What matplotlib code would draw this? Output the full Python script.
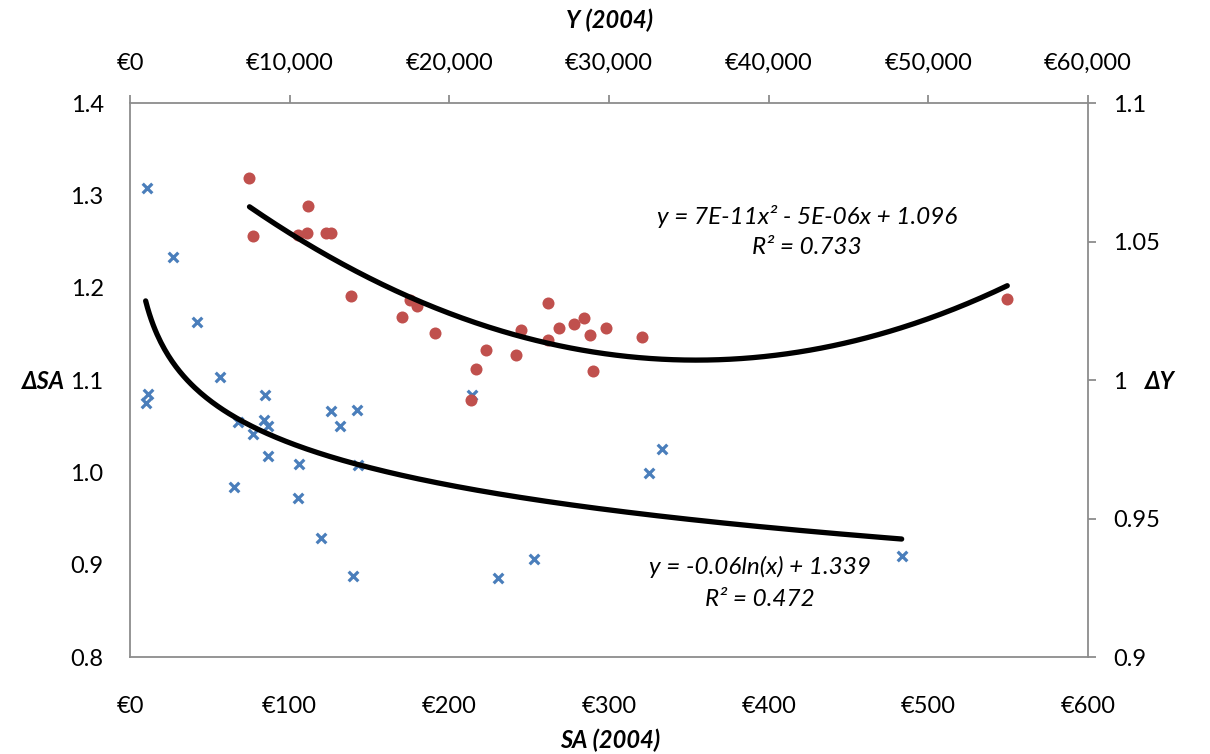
import numpy as np
import matplotlib
matplotlib.use("Agg")
import matplotlib.pyplot as plt
from matplotlib.ticker import FuncFormatter

plt.rcParams["font.family"] = ["Lato", "DejaVu Sans"]

# SA (2004) vs delta SA  (bottom / left axes)
sa = [10.6, 26.7, 42.2, 11.5, 9.8, 56.4, 84.5, 125.7, 142.4, 131.5, 67.4, 84.1, 86.6, 77.2,
      86.6, 106.0, 143.0, 65.1, 105.4, 119.6, 139.9, 214.0, 333.0, 325.2, 253.2, 230.7, 483.3]
d_sa = [1.308, 1.233, 1.163, 1.085, 1.075, 1.104, 1.084, 1.067, 1.068, 1.051, 1.055, 1.057,
        1.051, 1.042, 1.018, 1.009, 1.008, 0.984, 0.972, 0.929, 0.888, 1.084, 1.026, 1.000,
        0.906, 0.886, 0.910]

# Y (2004) vs delta Y  (top / right axes)
y04 = [7484, 11161, 7691, 10541, 11104, 12257, 12589, 13854, 17536, 17994, 17054, 19083,
       22296, 21689, 21357, 26179, 26849, 27826, 28453, 29793, 28791, 24488, 24156, 26179,
       28978, 32066, 54944]
d_y = [1.0730, 1.0629, 1.0520, 1.0523, 1.0530, 1.0533, 1.0531, 1.0304, 1.0289, 1.0270,
       1.0227, 1.0169, 1.0108, 1.0039, 0.9930, 1.0279, 1.0189, 1.0202, 1.0225, 1.0188,
       1.0165, 1.0182, 1.0090, 1.0147, 1.0032, 1.0156, 1.0292]

sa_ticks = [0, 100, 200, 300, 400, 500, 600]
y_ticks = [0, 10000, 20000, 30000, 40000, 50000, 60000]
dsa_ticks = [0.8, 0.9, 1.0, 1.1, 1.2, 1.3, 1.4]
dy_ticks = [0.9, 0.95, 1.0, 1.05, 1.1]

blue = "#4A7EBB"
red = "#C0504D"
grey = "#8C8C8C"
fs = 17
fs_eq = 17.5

fig = plt.figure(figsize=(12.1, 7.54), dpi=100)
rect = [130 / 1210, 1 - 657.3 / 754, (1088 - 130) / 1210, (657.3 - 103.3) / 754]
ax = fig.add_axes(rect)
ax2 = fig.add_axes(rect)
ax2.patch.set_alpha(0)

# blue series + log trend
ax.scatter(sa, d_sa, marker="x", s=48, color=blue, linewidths=2.3, zorder=2)
a, b = np.polyfit(np.log(sa), d_sa, 1)
xs = np.linspace(min(sa), max(sa), 400)
ax.plot(xs, a * np.log(xs) + b, color="black", lw=3.8, zorder=3, solid_capstyle="round")

ax.set_xlim(0, 600)
ax.set_ylim(0.8, 1.4)
ax.set_xticks(sa_ticks)
ax.set_yticks(dsa_ticks)
ax.xaxis.set_major_formatter(FuncFormatter(lambda v, p: f"€{v:,.0f}"))
ax.yaxis.set_major_formatter(FuncFormatter(lambda v, p: f"{v:.1f}"))
ax.tick_params(axis="x", length=0, pad=28, labelsize=fs)
ax.tick_params(axis="y", length=0, pad=19, labelsize=fs)
for s in ["top", "right"]:
    ax.spines[s].set_visible(False)
for s in ["left", "bottom"]:
    ax.spines[s].set_color(grey)
    ax.spines[s].set_linewidth(1.3)

# red series + polynomial trend
ax2.scatter(y04, d_y, marker="o", s=75, color=red, linewidths=0, zorder=2)
c = np.polyfit(y04, d_y, 2)
xq = np.linspace(min(y04), max(y04), 400)
ax2.plot(xq, np.polyval(c, xq), color="black", lw=3.8, zorder=3, solid_capstyle="round")

ax2.set_xlim(0, 60000)
ax2.set_ylim(0.9, 1.1)
ax2.set_xticks(y_ticks)
ax2.set_yticks(dy_ticks)
ax2.xaxis.tick_top()
ax2.yaxis.tick_right()
ax2.xaxis.set_major_formatter(FuncFormatter(lambda v, p: f"€{v:,.0f}"))
ax2.yaxis.set_major_formatter(FuncFormatter(lambda v, p: f"{v:g}"))
ax2.tick_params(axis="x", length=6, width=1.3, color=grey, pad=15, labelsize=fs)
ax2.tick_params(axis="y", length=6, width=1.3, color=grey, pad=12, labelsize=fs)
for s in ["left", "bottom"]:
    ax2.spines[s].set_visible(False)
for s in ["top", "right"]:
    ax2.spines[s].set_color(grey)
    ax2.spines[s].set_linewidth(1.3)

# axis titles
fig.text(610 / 1210, 1 - 20 / 754, "Y (2004)", ha="center", va="center",
         fontsize=fs, fontweight="bold", style="italic")
fig.text(610 / 1210, 1 - 740 / 754, "SA (2004)", ha="center", va="center",
         fontsize=fs, fontweight="bold", style="italic")
fig.text(44 / 1210, 1 - 382 / 754, "ΔSA", ha="center", va="center",
         fontsize=fs, fontweight="bold", style="italic")
fig.text(1160 / 1210, 1 - 382 / 754, "ΔY", ha="center", va="center",
         fontsize=fs, fontweight="bold", style="italic")

# trendline labels
fig.text(807 / 1210, 1 - 216 / 754, "y = 7E-11x² - 5E-06x + 1.096", ha="center",
         va="center", fontsize=fs_eq, style="italic")
fig.text(807 / 1210, 1 - 248 / 754, "R² = 0.733", ha="center", va="center",
         fontsize=fs_eq, style="italic")
fig.text(760 / 1210, 1 - 567 / 754, "y = -0.06ln(x) + 1.339", ha="center", va="center",
         fontsize=fs_eq, style="italic")
fig.text(760 / 1210, 1 - 599 / 754, "R² = 0.472", ha="center", va="center",
         fontsize=fs_eq, style="italic")

fig.savefig("out.png", dpi=100)
